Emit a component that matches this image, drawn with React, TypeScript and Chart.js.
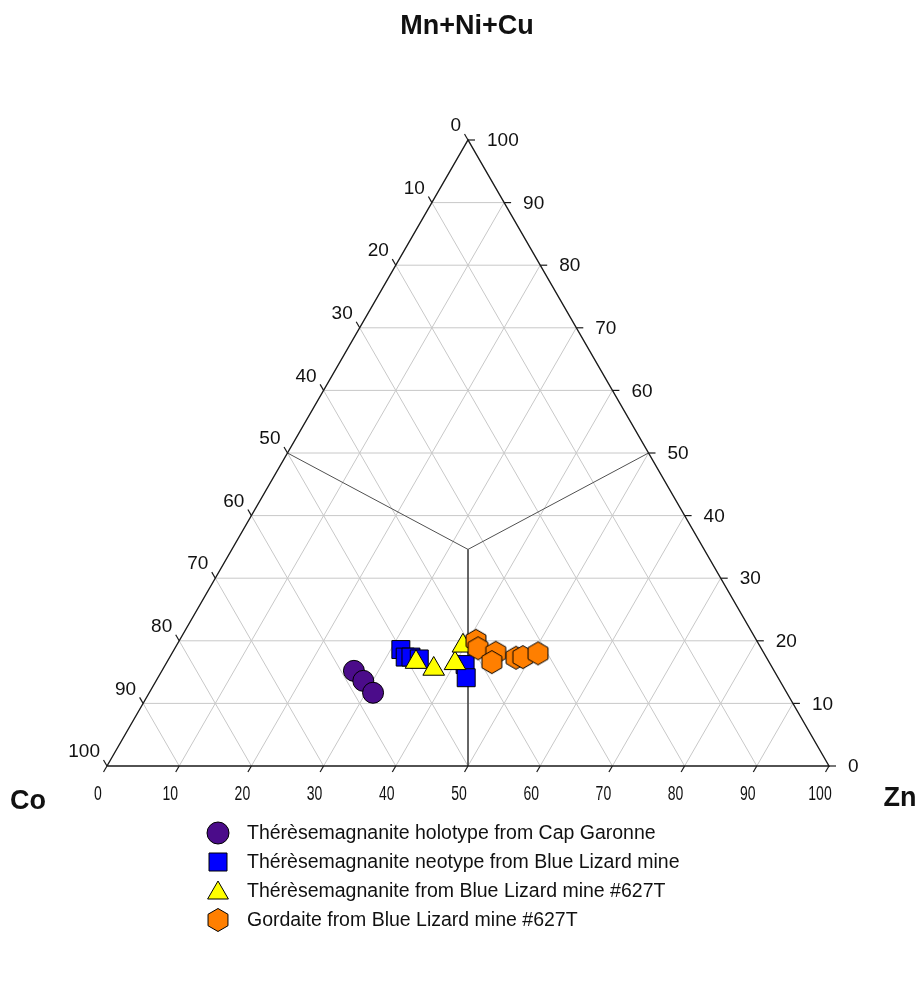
import React, { useEffect, useRef } from "react";
import { Chart, registerables } from "chart.js";

Chart.register(...registerables);

// ---- data (ternary percentages: Co, Zn, Mn+Ni+Cu) ----
const SERIES_LABELS = [
  "Thérèsemagnanite holotype from Cap Garonne",
  "Thérèsemagnanite neotype from Blue Lizard mine",
  "Thérèsemagnanite from Blue Lizard mine #627T",
  "Gordaite from Blue Lizard mine #627T",
];

const holoCo = [58.2, 57.7, 57.3];
const holoZn = [26.6, 28.7, 31.0];
const holoMn = [15.2, 13.6, 11.7];

const neoCo = [50.0, 50.0, 49.2, 48.2, 42.3, 43.2];
const neoZn = [31.4, 32.6, 33.4, 34.7, 41.5, 42.7];
const neoMn = [18.6, 17.4, 17.4, 17.1, 16.2, 14.1];

const blCo = [48.9, 47.0, 43.6, 41.1];
const blZn = [34.5, 37.5, 40.0, 39.7];
const blMn = [16.6, 15.5, 16.4, 19.2];

const gorCo = [38.9, 39.2, 37.1, 38.4, 34.7, 33.7, 31.3];
const gorZn = [41.1, 42.0, 44.8, 45.0, 48.0, 48.9, 50.7];
const gorMn = [20.0, 18.8, 18.1, 16.6, 17.3, 17.4, 18.0];

const TICKS = [0, 10, 20, 30, 40, 50, 60, 70, 80, 90, 100];
const GRID = [10, 20, 30, 40, 50, 60, 70, 80, 90];
const JUNCTION = [32.7, 32.7, 34.6];

const TITLE_TOP = "Mn+Ni+Cu";
const TITLE_LEFT = "Co";
const TITLE_RIGHT = "Zn";

const COLORS = ["#4B0C8A", "#0000FF", "#FFFF00", "#FF7F00"];

const SQ = Math.sqrt(3) / 2;
function toXY(co: number, zn: number, mn: number) {
  const s = co + zn + mn;
  const z = (zn / s) * 100;
  const m = (mn / s) * 100;
  return { x: z + m / 2, y: m * SQ };
}

function pts(co: number[], zn: number[], mn: number[]) {
  return co.map((c, i) => toXY(c, zn[i], mn[i]));
}

function makeHex(r: number, fill: string) {
  const size = Math.ceil(2 * r + 3);
  const cv = document.createElement("canvas");
  cv.width = size;
  cv.height = size;
  const ctx = cv.getContext("2d")!;
  drawHex(ctx, size / 2, size / 2, r, fill);
  return cv;
}

function drawHex(ctx: CanvasRenderingContext2D, cx: number, cy: number, r: number, fill: string) {
  ctx.beginPath();
  for (let i = 0; i < 6; i++) {
    const a = -Math.PI / 2 + (i * Math.PI) / 3;
    const px = cx + r * Math.cos(a);
    const py = cy + r * Math.sin(a);
    if (i === 0) ctx.moveTo(px, py);
    else ctx.lineTo(px, py);
  }
  ctx.closePath();
  ctx.fillStyle = fill;
  ctx.fill();
  ctx.lineWidth = 1;
  ctx.strokeStyle = "#000";
  ctx.stroke();
}

const FONT = '"Liberation Sans", Arial, Helvetica, sans-serif';

export default function App() {
  const ref = useRef<HTMLCanvasElement | null>(null);

  useEffect(() => {
    document.body.style.margin = "0";
    document.body.style.overflow = "hidden";
    const canvas = ref.current!;
    const hex = makeHex(11.5, COLORS[3]);

    const lineDs = (a: number[], b: number[], color: string, width: number) => ({
      type: "scatter" as const,
      data: [toXY(a[0], a[1], a[2]), toXY(b[0], b[1], b[2])],
      showLine: true,
      borderColor: color,
      borderWidth: width,
      pointRadius: 0,
      fill: false,
      order: 30,
      clip: false as any,
    });

    const gridSets: any[] = [];
    GRID.forEach((g) => {
      gridSets.push(lineDs([100 - g, 0, g], [0, 100 - g, g], "#c8c8c8", 1));
      gridSets.push(lineDs([100 - g, g, 0], [0, g, 100 - g], "#c8c8c8", 1));
      gridSets.push(lineDs([g, 100 - g, 0], [g, 0, 100 - g], "#c8c8c8", 1));
    });
    const centerSets = [
      lineDs(JUNCTION, [50, 0, 50], "#505050", 1),
      lineDs(JUNCTION, [0, 50, 50], "#505050", 1),
      lineDs(JUNCTION, [50, 50, 0], "#505050", 1),
    ].map((d) => ({ ...d, order: 25 }));
    const outline = {
      ...lineDs([100, 0, 0], [0, 100, 0], "#1a1a1a", 1.4),
      data: [toXY(100, 0, 0), toXY(0, 100, 0), toXY(0, 0, 100), toXY(100, 0, 0)],
      order: 20,
    };

    const seriesSets: any[] = [
      {
        label: SERIES_LABELS[0],
        data: pts(holoCo, holoZn, holoMn),
        pointStyle: "circle",
        pointRadius: 10.5,
        backgroundColor: COLORS[0],
        borderColor: "#000",
        borderWidth: 1,
        order: 4,
        isSeries: true,
      },
      {
        label: SERIES_LABELS[1],
        data: pts(neoCo, neoZn, neoMn),
        pointStyle: "rect",
        pointRadius: 12.7,
        backgroundColor: COLORS[1],
        borderColor: "#000",
        borderWidth: 1,
        order: 3,
        isSeries: true,
      },
      {
        label: SERIES_LABELS[2],
        data: pts(blCo, blZn, blMn),
        pointStyle: "triangle",
        pointRadius: 12.5,
        backgroundColor: COLORS[2],
        borderColor: "#000",
        borderWidth: 1,
        order: 2,
        isSeries: true,
      },
      {
        label: SERIES_LABELS[3],
        data: pts(gorCo, gorZn, gorMn),
        pointStyle: hex,
        pointRadius: 11.5,
        backgroundColor: COLORS[3],
        borderColor: "#000",
        borderWidth: 1,
        order: 1,
        isSeries: true,
      },
    ];

    const ternaryPlugin = {
      id: "ternaryDecor",
      afterDraw(chart: any) {
        const ctx: CanvasRenderingContext2D = chart.ctx;
        const xs = chart.scales.x;
        const ys = chart.scales.y;
        const P = (co: number, zn: number, mn: number) => {
          const p = toXY(co, zn, mn);
          return { x: xs.getPixelForValue(p.x), y: ys.getPixelForValue(p.y) };
        };
        const L = 7;
        ctx.save();
        ctx.strokeStyle = "#1a1a1a";
        ctx.lineWidth = 1.2;
        ctx.fillStyle = "#111";
        ctx.font = `19px ${FONT}`;
        // left axis (Co): 0 at top, 100 at bottom-left
        TICKS.forEach((t) => {
          const p = P(t, 0, 100 - t);
          ctx.beginPath();
          ctx.moveTo(p.x, p.y);
          ctx.lineTo(p.x - 0.5 * L, p.y - SQ * L);
          ctx.stroke();
          ctx.textAlign = "right";
          ctx.textBaseline = "middle";
          ctx.fillText(String(t), p.x - 7, p.y - 14);
        });
        // right axis (Mn+Ni+Cu): 0 at bottom-right, 100 at top
        TICKS.forEach((t) => {
          const p = P(0, 100 - t, t);
          ctx.beginPath();
          ctx.moveTo(p.x, p.y);
          ctx.lineTo(p.x + L, p.y);
          ctx.stroke();
          ctx.textAlign = "left";
          ctx.textBaseline = "middle";
          ctx.fillText(String(t), p.x + 19, p.y + 1);
        });
        // bottom axis (Zn): 0 at left, 100 at right
        ctx.font = `20px ${FONT}`;
        TICKS.forEach((t) => {
          const p = P(100 - t, t, 0);
          ctx.beginPath();
          ctx.moveTo(p.x, p.y);
          ctx.lineTo(p.x - 0.5 * L, p.y + SQ * L);
          ctx.stroke();
          ctx.save();
          ctx.translate(p.x - 9, p.y + 28);
          ctx.scale(0.7, 1);
          ctx.textAlign = "center";
          ctx.textBaseline = "middle";
          ctx.fillText(String(t), 0, 0);
          ctx.restore();
        });
        // axis titles
        ctx.font = `bold 27px ${FONT}`;
        ctx.textAlign = "center";
        ctx.textBaseline = "middle";
        const top = P(0, 0, 100);
        ctx.fillText(TITLE_TOP, top.x - 1, 27);
        const bl = P(100, 0, 0);
        ctx.fillText(TITLE_LEFT, bl.x - 79, bl.y + 36);
        const br = P(0, 100, 0);
        ctx.fillText(TITLE_RIGHT, br.x + 71, br.y + 33);

        // legend
        ctx.font = `19.5px ${FONT}`;
        ctx.textAlign = "left";
        ctx.textBaseline = "middle";
        const series = chart.data.datasets.filter((d: any) => d.isSeries);
        const lx = 218;
        series.forEach((d: any, i: number) => {
          const cy = 833 + i * 29;
          ctx.fillStyle = d.backgroundColor;
          ctx.strokeStyle = "#000";
          ctx.lineWidth = 1;
          if (d.pointStyle === "circle") {
            ctx.beginPath();
            ctx.arc(lx, cy, 11, 0, Math.PI * 2);
            ctx.fill();
            ctx.stroke();
          } else if (d.pointStyle === "rect") {
            ctx.beginPath();
            ctx.rect(lx - 9, cy - 9, 18, 18);
            ctx.fill();
            ctx.stroke();
          } else if (d.pointStyle === "triangle") {
            const r = 12;
            ctx.beginPath();
            for (let k = 0; k < 3; k++) {
              const a = -Math.PI / 2 + (k * 2 * Math.PI) / 3;
              const px = lx + r * Math.cos(a);
              const py = cy + 2 + r * Math.sin(a);
              if (k === 0) ctx.moveTo(px, py);
              else ctx.lineTo(px, py);
            }
            ctx.closePath();
            ctx.fill();
            ctx.stroke();
          } else {
            drawHex(ctx, lx, cy, 11.5, d.backgroundColor);
          }
          ctx.fillStyle = "#111";
          ctx.fillText(d.label, 247, cy + 1);
        });
        ctx.restore();
      },
    };

    const chart = new Chart(canvas, {
      type: "scatter",
      data: {
        datasets: [...seriesSets, outline, ...centerSets, ...gridSets],
      },
      options: {
        animation: false,
        responsive: true,
        maintainAspectRatio: false,
        events: [],
        layout: { padding: { left: 107, right: 90, top: 140, bottom: 228 } },
        scales: {
          x: { type: "linear", min: 0, max: 100, display: false },
          y: { type: "linear", min: 0, max: 100 * SQ, display: false },
        },
        plugins: {
          legend: { display: false },
          tooltip: { enabled: false },
          title: { display: false },
        },
      } as any,
      plugins: [ternaryPlugin],
    });

    return () => chart.destroy();
  }, []);

  return (
    <div style={{ width: 919, height: 994, position: "relative", background: "#fff" }}>
      <canvas ref={ref} />
    </div>
  );
}
